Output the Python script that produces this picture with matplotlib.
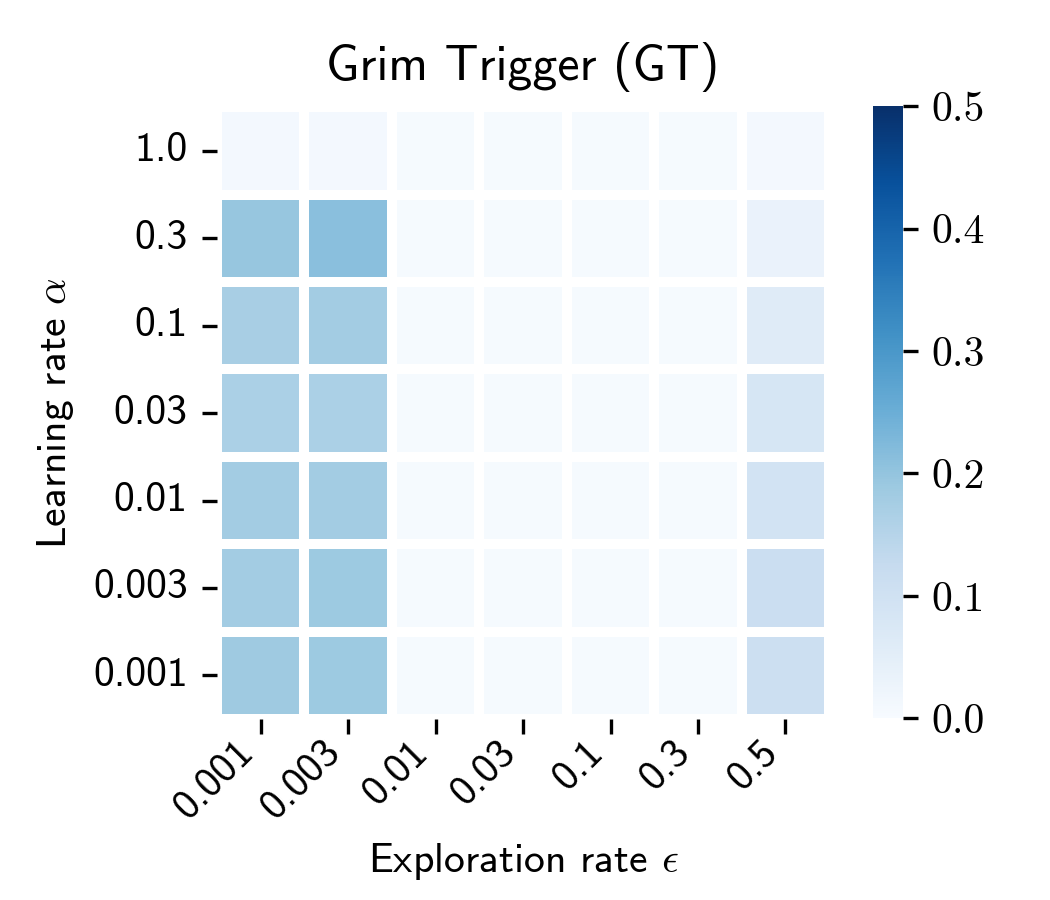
import matplotlib
matplotlib.use("Agg")
import matplotlib.pyplot as plt
import numpy as np
import seaborn as sns

plt.rcParams['mathtext.fontset'] = 'cm'
plt.rcParams['font.family'] = ['cmss10', 'DejaVu Sans']
plt.rcParams['axes.unicode_minus'] = False

title = "Grim Trigger (GT)"
eps_labels = ["0.001", "0.003", "0.01", "0.03", "0.1", "0.3", "0.5"]
alpha_labels = ["1.0", "0.3", "0.1", "0.03", "0.01", "0.003", "0.001"]

row_1_0   = [0.010, 0.010, 0.005, 0.005, 0.005, 0.005, 0.010]
row_0_3   = [0.196, 0.211, 0.005, 0.005, 0.005, 0.005, 0.035]
row_0_1   = [0.172, 0.180, 0.005, 0.005, 0.005, 0.005, 0.062]
row_0_03  = [0.167, 0.167, 0.005, 0.005, 0.005, 0.005, 0.083]
row_0_01  = [0.180, 0.180, 0.005, 0.005, 0.005, 0.005, 0.094]
row_0_003 = [0.180, 0.188, 0.005, 0.005, 0.005, 0.005, 0.112]
row_0_001 = [0.186, 0.188, 0.005, 0.005, 0.005, 0.005, 0.110]

data = np.array([row_1_0, row_0_3, row_0_1, row_0_03, row_0_01, row_0_003, row_0_001])

fig = plt.figure(figsize=(3.5, 3.0), dpi=300)
ax = fig.add_axes([0.2067, 0.201, 0.583, 0.68])
cax = fig.add_axes([0.831, 0.202, 0.0286, 0.68])

sns.heatmap(data, ax=ax, cbar_ax=cax, cmap="Blues", vmin=0, vmax=0.5,
            linewidths=2, linecolor="white", square=False,
            xticklabels=eps_labels, yticklabels=alpha_labels)

ax.set_title(title, fontsize=12, pad=6.5)
ax.set_xlabel(r"Exploration rate $\epsilon$", fontsize=10, labelpad=3.5)
ax.set_ylabel(r"Learning rate $\alpha$", fontsize=10)
ax.tick_params(axis='both', labelsize=10, length=3.5, width=0.8)
ax.tick_params(axis='x', pad=0)
plt.setp(ax.get_xticklabels(), rotation=45, ha='right')
plt.setp(ax.get_yticklabels(), rotation=0)

cax.tick_params(labelsize=10, length=3.5, width=0.8)
cax.set_yticks([0.0, 0.1, 0.2, 0.3, 0.4, 0.5])
cax.set_yticklabels(["0.0", "0.1", "0.2", "0.3", "0.4", "0.5"], family='cmr10')

fig.savefig("out.png", dpi=300)
